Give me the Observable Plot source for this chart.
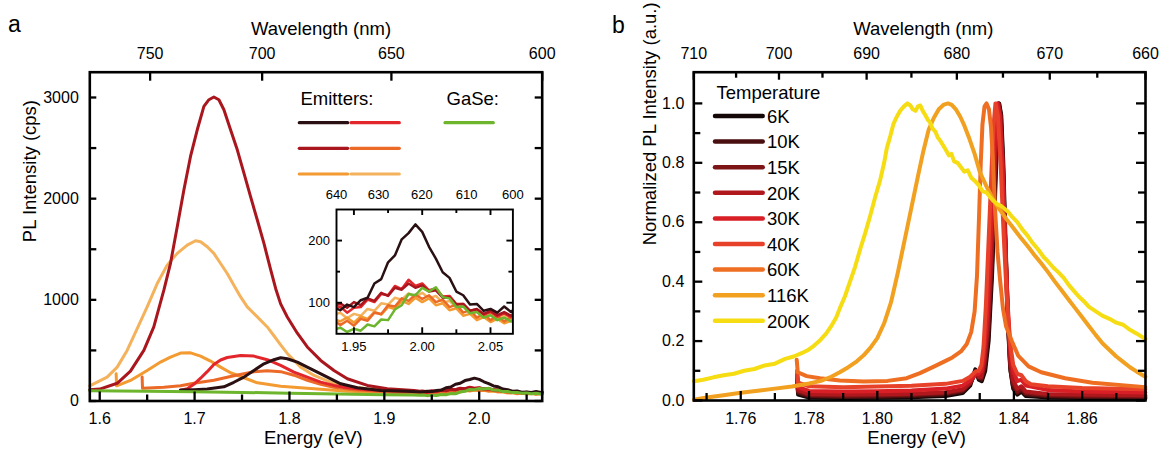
<!DOCTYPE html>
<html><head><meta charset="utf-8">
<script src="https://cdn.jsdelivr.net/npm/d3@7"></script>
<script src="https://cdn.jsdelivr.net/npm/@observablehq/plot@0.6"></script>
<style>
body{margin:0;background:#fff;}
#wrap{position:relative;width:1165px;height:457px;overflow:hidden;background:#fff;}
.pane{position:absolute;top:0;}
</style></head><body>
<div id="wrap">
  <div id="pa" class="pane" style="left:0;width:580px;height:457px"></div>
  <div id="pi" class="pane" style="left:0;width:580px;height:457px"></div>
  <div id="pb" class="pane" style="left:580px;width:585px;height:457px"></div>
</div>
<script>
const HC = 1239.84; // eV*nm
const FONT = "'Liberation Sans', Arial, Helvetica, sans-serif";

// ---------- Panel a : PL spectra [energy eV, intensity cps] ----------
const emBlack = [[1.685,108],[1.70,112],[1.7133,118],[1.7309,140],[1.7414,185],[1.752,236],[1.7625,302],[1.7731,368],[1.7836,408],[1.7907,428],[1.7977,418],[1.8083,385],[1.8188,335],[1.8294,286],[1.8399,236],[1.854,170],[1.8716,131],[1.8962,104],[1.9243,97]];
const emRed = [[1.685,105],[1.6922,122],[1.6992,165],[1.7063,225],[1.7133,290],[1.7203,360],[1.7274,405],[1.7344,430],[1.7485,450],[1.7625,444],[1.7766,408],[1.7907,352],[1.8047,286],[1.8188,236],[1.8329,187],[1.8469,154],[1.861,131],[1.8821,111],[1.9137,99],[1.928,94]];
const emDarkRed = [[1.5895,112],[1.60,118],[1.6184,175],[1.6324,295],[1.6465,500],[1.657,732],[1.6676,1095],[1.6746,1360],[1.6817,1723],[1.6887,2086],[1.6957,2417],[1.7028,2681],[1.7098,2912],[1.7151,2978],[1.7203,3005],[1.7256,2978],[1.7309,2879],[1.7379,2681],[1.745,2483],[1.752,2252],[1.759,2020],[1.7661,1789],[1.7731,1558],[1.7801,1300],[1.7855,1110],[1.7907,960],[1.7977,830],[1.8083,670],[1.8188,534],[1.8329,401],[1.8469,302],[1.861,220],[1.8821,154],[1.9032,121],[1.9313,104]];
const emDkOrange = [[1.6447,236],[1.6451,125],[1.6676,135],[1.6852,150],[1.6992,175],[1.7203,205],[1.7414,250],[1.7625,290],[1.7766,300],[1.7907,290],[1.8047,255],[1.8188,205],[1.8329,165],[1.8469,135],[1.8681,112],[1.8962,95],[1.92,80],[1.93,74]];
const emOrange = [[1.6173,270],[1.6178,150],[1.6324,203],[1.65,302],[1.6641,385],[1.6746,434],[1.6852,474],[1.6957,476],[1.7063,444],[1.7168,395],[1.7274,335],[1.7379,279],[1.752,230],[1.7661,180],[1.7907,145],[1.8259,121],[1.861,97],[1.8962,88],[1.925,78]];
const emLtOrange = [[1.5895,150],[1.6078,236],[1.6184,335],[1.6289,500],[1.6395,715],[1.65,930],[1.6606,1161],[1.6711,1343],[1.6817,1459],[1.6922,1541],[1.701,1584],[1.7063,1574],[1.7133,1525],[1.7203,1459],[1.7274,1359],[1.7344,1260],[1.7414,1145],[1.7485,1029],[1.7555,930],[1.7661,831],[1.7766,732],[1.7836,645],[1.7907,555],[1.7977,470],[1.8118,335],[1.8259,253],[1.8434,187],[1.861,144],[1.8821,121],[1.9137,104],[1.93,88]];
const gaSe = [[1.5895,102],[1.62,100],[1.65,97],[1.70,92],[1.75,85],[1.80,77],[1.85,70],[1.90,63],[1.93,59]];

// high-energy region (shown enlarged in the inset)
const insetE = [1.9375,1.940,1.945,1.950,1.955,1.960,1.965,1.970,1.975,1.980,1.985,1.990,1.995,2.000,2.005,2.010,2.015,2.020,2.025,2.030,2.035,2.040,2.045,2.050,2.055,2.060,2.065,2.0664];
const hiBlack    = [90,88,97,93,104,108,131,138,165,176,202,212,226,214,190,171,149,140,118,112,97,98,87,90,84,94,85,88];
const hiRed      = [92,94,84,92,93,105,101,114,112,127,122,137,127,131,120,123,110,111,98,98,87,89,81,85,78,83,77,79];
const hiDarkRed  = [96,99,92,101,96,107,103,116,111,124,121,131,124,128,118,120,108,109,97,98,87,90,82,87,80,85,79,82];
const hiDkOrange = [68,64,71,63,74,71,84,82,96,94,107,103,113,106,112,101,105,93,97,84,88,76,82,72,79,70,77,74];
const hiOrange   = [72,70,76,68,78,74,85,81,93,90,103,98,108,101,107,96,99,88,91,79,82,72,77,69,74,67,71,69];
const hiLtOrange = [82,84,75,82,79,90,87,99,97,108,105,115,109,116,107,111,100,103,92,94,83,86,77,82,74,80,73,76];
const hiGaSe     = [58,60,53,58,55,65,62,73,72,89,96,114,112,124,118,125,109,107,93,94,83,85,76,80,72,76,70,72];

const emitterColors = ["#2a1012","#e3262b","#a9161d","#ec6a28","#f39a30","#f5b25c"]; // legend order
const gaseColor = "#6cb52d";

// axes of panel a
const aWlRange = [780, 600];
const aYDomain = [0, 3250];
const aXMajor = [1.6,1.7,1.8,1.9,2.0];
const aXMinor = [1.65,1.75,1.85,1.95,2.05];
const aYMajor = [0,1000,2000,3000];
const aYMinor = [500,1500,2500];
const aWlTicks = [750,700,650,600];
// inset
const iWlRange = [640, 600];
const iYDomain = [50, 250];
const iXMajor = [1.95,2.00,2.05];
const iXMinor = [1.975,2.025];
const iYMajor = [100,200];
const iYMinor = [150];
const iWlTicks = [640,630,620,610,600];

// ---------- Panel b : normalized PL vs temperature ----------
const t6 = [[1.7765,0.07],[1.7768,0.02],[1.78,0.01],[1.79,0.008],[1.80,0.009],[1.81,0.011],[1.82,0.015],[1.825,0.025],[1.8272,0.05],[1.8287,0.105],[1.8297,0.07],[1.8306,0.065],[1.8316,0.1],[1.8326,0.2],[1.8336,0.42],[1.8344,0.66],[1.8351,0.88],[1.8357,1.0],[1.8363,0.96],[1.8369,0.8],[1.8376,0.52],[1.8383,0.26],[1.839,0.1],[1.8398,0.04],[1.841,0.02],[1.8422,0.03],[1.8435,0.015],[1.85,0.01],[1.86,0.008],[1.8785,0.007]];
const t10 = [[1.7765,0.075],[1.7768,0.025],[1.78,0.014],[1.79,0.012],[1.80,0.013],[1.81,0.015],[1.82,0.02],[1.825,0.03],[1.8272,0.055],[1.8288,0.1],[1.8297,0.075],[1.8305,0.07],[1.8315,0.11],[1.8325,0.21],[1.8335,0.43],[1.8343,0.67],[1.835,0.89],[1.8356,1.0],[1.8362,0.96],[1.8368,0.8],[1.8375,0.52],[1.8382,0.27],[1.8389,0.11],[1.8397,0.05],[1.841,0.025],[1.8422,0.035],[1.8435,0.02],[1.85,0.014],[1.86,0.012],[1.8785,0.01]];
const t15 = [[1.7765,0.08],[1.7768,0.03],[1.78,0.018],[1.79,0.016],[1.80,0.017],[1.81,0.019],[1.82,0.024],[1.825,0.034],[1.8272,0.058],[1.8288,0.095],[1.8297,0.078],[1.8305,0.075],[1.8314,0.12],[1.8324,0.23],[1.8334,0.45],[1.8342,0.69],[1.8349,0.9],[1.8355,1.0],[1.8361,0.96],[1.8368,0.79],[1.8375,0.52],[1.8382,0.28],[1.8389,0.12],[1.8397,0.06],[1.841,0.03],[1.8422,0.04],[1.8435,0.025],[1.85,0.018],[1.86,0.016],[1.8785,0.014]];
const t20 = [[1.7765,0.085],[1.7768,0.035],[1.78,0.022],[1.79,0.02],[1.80,0.021],[1.81,0.023],[1.82,0.028],[1.825,0.038],[1.8272,0.06],[1.8288,0.09],[1.8297,0.08],[1.8305,0.08],[1.8313,0.13],[1.8323,0.25],[1.8333,0.47],[1.8341,0.7],[1.8348,0.9],[1.8354,1.0],[1.836,0.96],[1.8367,0.8],[1.8375,0.53],[1.8382,0.3],[1.8389,0.14],[1.8397,0.07],[1.841,0.04],[1.8422,0.048],[1.8435,0.03],[1.85,0.022],[1.86,0.02],[1.8785,0.018]];
const t30 = [[1.7765,0.09],[1.7768,0.045],[1.78,0.032],[1.79,0.03],[1.80,0.031],[1.81,0.034],[1.82,0.04],[1.825,0.05],[1.8272,0.068],[1.8288,0.09],[1.8297,0.09],[1.8305,0.1],[1.8312,0.15],[1.8321,0.28],[1.833,0.5],[1.8338,0.72],[1.8345,0.9],[1.8351,1.0],[1.8358,0.96],[1.8366,0.8],[1.8374,0.55],[1.8382,0.32],[1.839,0.17],[1.8398,0.1],[1.841,0.065],[1.8422,0.07],[1.8435,0.05],[1.85,0.035],[1.86,0.03],[1.8785,0.027]];
const t40 = [[1.7765,0.1],[1.7768,0.06],[1.78,0.048],[1.79,0.045],[1.80,0.047],[1.81,0.05],[1.82,0.056],[1.825,0.066],[1.8272,0.08],[1.8288,0.098],[1.8297,0.1],[1.8305,0.12],[1.8311,0.18],[1.8318,0.32],[1.8326,0.54],[1.8334,0.76],[1.834,0.92],[1.8346,1.0],[1.8353,0.96],[1.8361,0.8],[1.837,0.56],[1.8379,0.35],[1.8388,0.2],[1.8398,0.12],[1.841,0.09],[1.8422,0.085],[1.8435,0.065],[1.845,0.055],[1.85,0.048],[1.86,0.042],[1.8785,0.038]];
const t60 = [[1.7764,0.137],[1.7767,0.095],[1.7793,0.082],[1.7832,0.075],[1.789,0.067],[1.796,0.064],[1.803,0.066],[1.8086,0.075],[1.8125,0.092],[1.8164,0.113],[1.8194,0.13],[1.822,0.145],[1.8245,0.165],[1.8262,0.19],[1.8275,0.23],[1.8285,0.3],[1.8292,0.42],[1.8298,0.62],[1.8303,0.8],[1.8308,0.93],[1.8314,0.99],[1.832,1.0],[1.8327,0.98],[1.8333,0.92],[1.8338,0.82],[1.8345,0.64],[1.8352,0.5],[1.836,0.4],[1.8368,0.31],[1.8377,0.25],[1.8394,0.2],[1.8413,0.15],[1.8443,0.115],[1.848,0.095],[1.855,0.075],[1.863,0.06],[1.8785,0.045]];
const t116 = [[1.7463,0.003],[1.750,0.01],[1.755,0.018],[1.760,0.026],[1.765,0.033],[1.770,0.04],[1.775,0.047],[1.780,0.057],[1.7835,0.066],[1.7865,0.08],[1.789,0.095],[1.7915,0.112],[1.794,0.132],[1.796,0.152],[1.798,0.178],[1.80,0.21],[1.802,0.26],[1.804,0.33],[1.806,0.43],[1.808,0.54],[1.81,0.65],[1.812,0.76],[1.8135,0.84],[1.815,0.91],[1.8165,0.95],[1.818,0.98],[1.8195,0.996],[1.8207,1.0],[1.8218,0.995],[1.823,0.98],[1.8243,0.955],[1.8255,0.925],[1.827,0.88],[1.8285,0.83],[1.830,0.77],[1.832,0.72],[1.834,0.675],[1.836,0.64],[1.838,0.608],[1.840,0.578],[1.842,0.548],[1.844,0.52],[1.846,0.49],[1.848,0.462],[1.850,0.432],[1.852,0.4],[1.854,0.37],[1.856,0.34],[1.858,0.31],[1.860,0.28],[1.862,0.25],[1.864,0.22],[1.866,0.192],[1.868,0.17],[1.870,0.148],[1.872,0.13],[1.874,0.112],[1.876,0.097],[1.8785,0.08]];
const t200 = [[1.7463,0.065],[1.749,0.07],[1.752,0.078],[1.755,0.085],[1.758,0.09],[1.761,0.1],[1.764,0.106],[1.767,0.118],[1.770,0.124],[1.773,0.14],[1.7755,0.148],[1.778,0.16],[1.780,0.172],[1.7815,0.185],[1.783,0.2],[1.785,0.225],[1.7865,0.25],[1.788,0.28],[1.789,0.31],[1.7905,0.35],[1.792,0.4],[1.7935,0.45],[1.795,0.51],[1.7965,0.565],[1.798,0.625],[1.7995,0.69],[1.8008,0.74],[1.802,0.8],[1.8028,0.85],[1.8038,0.89],[1.8047,0.93],[1.8057,0.955],[1.8067,0.975],[1.8078,0.99],[1.8088,1.0],[1.8097,0.993],[1.8104,0.98],[1.8112,0.975],[1.8119,0.99],[1.8126,0.993],[1.8133,0.975],[1.814,0.962],[1.8148,0.945],[1.8155,0.935],[1.8162,0.915],[1.817,0.905],[1.8177,0.885],[1.8184,0.875],[1.8192,0.86],[1.820,0.845],[1.821,0.825],[1.8217,0.83],[1.8225,0.805],[1.8235,0.8],[1.8245,0.785],[1.8255,0.77],[1.8265,0.775],[1.8275,0.75],[1.8285,0.74],[1.8297,0.725],[1.8308,0.705],[1.832,0.7],[1.833,0.685],[1.834,0.672],[1.8352,0.66],[1.8362,0.655],[1.837,0.648],[1.8383,0.635],[1.8395,0.618],[1.841,0.6],[1.8425,0.575],[1.844,0.555],[1.8455,0.53],[1.847,0.51],[1.8487,0.483],[1.850,0.468],[1.8516,0.447],[1.853,0.432],[1.8546,0.413],[1.856,0.39],[1.8575,0.37],[1.859,0.35],[1.8604,0.335],[1.862,0.315],[1.864,0.3],[1.866,0.285],[1.868,0.275],[1.870,0.262],[1.872,0.255],[1.874,0.238],[1.876,0.225],[1.8785,0.207]];
const tempLabels = ["6K","10K","15K","20K","30K","40K","60K","116K","200K"];
const tempColors = ["#140707","#4a0f10","#7d1517","#b0181d","#d91f26","#e8412a","#ee6e22","#f1a01f","#f6dc12"];
const tempData = [t6,t10,t15,t20,t30,t40,t60,t116,t200];

const bWlRange = [710, 660];
const bYDomain = [0, 1.105];
const bXMajor = [1.76,1.78,1.80,1.82,1.84,1.86];
const bXMinor = [1.75,1.77,1.79,1.81,1.83,1.85,1.87];
const bYMajor = [0,0.2,0.4,0.6,0.8,1.0];
const bYMinor = [0.1,0.3,0.5,0.7,0.9];
const bWlMajor = [710,700,690,680,670,660];
const bWlMinor = [705,695,685,675,665];

// ---------- helpers ----------
const withHi = (main, hi) => main.concat(insetE.map((e, i) => [e, hi[i]]));
const seriesA = [
  {c: emitterColors[5], d: withHi(emLtOrange, hiLtOrange)},
  {c: emitterColors[4], d: withHi(emOrange, hiOrange)},
  {c: emitterColors[3], d: withHi(emDkOrange, hiDkOrange)},
  {c: emitterColors[1], d: withHi(emRed, hiRed)},
  {c: emitterColors[2], d: withHi(emDarkRed, hiDarkRed)},
  {c: emitterColors[0], d: withHi(emBlack, hiBlack)},
  {c: gaseColor, d: withHi(gaSe, hiGaSe)}
];
const toE = w => HC / w;

function tx(values, len, side, FH, sw) {
  const o = {x: d => d, stroke: "black", strokeWidth: sw};
  if (side === "bottom") o.insetTop = FH - len; else o.insetBottom = FH - len;
  return Plot.tickX(values, o);
}
function ty(values, len, side, FW, sw) {
  const o = {y: d => d, stroke: "black", strokeWidth: sw};
  if (side === "left") o.insetRight = FW - len; else o.insetLeft = FW - len;
  return Plot.tickY(values, o);
}
const baseStyle = fs => ({fontFamily: FONT, fontSize: fs, background: "transparent", color: "black", maxWidth: "none", overflow: "visible"});

// ---------- Panel a ----------
const A = {w: 580, h: 457, l: 89.3, r: 38.3, t: 71.7, b: 56.5};
const AFW = A.w - A.l - A.r, AFH = A.h - A.t - A.b;
const plotA = Plot.plot({
  width: A.w, height: A.h, marginLeft: A.l, marginRight: A.r, marginTop: A.t, marginBottom: A.b,
  x: {domain: aWlRange.map(toE), axis: null},
  y: {domain: aYDomain, axis: null},
  style: baseStyle("16px"),
  marks: [
    ...seriesA.map(s => Plot.line(s.d, {x: d => d[0], y: d => d[1], stroke: s.c, strokeWidth: 3, strokeLinejoin: "round"})),
    Plot.frame({stroke: "black", strokeWidth: 2.6}),
    tx(aXMajor, 9, "bottom", AFH, 2.3), tx(aXMinor, 6, "bottom", AFH, 2.3),
    tx(aWlTicks.map(toE), 9, "top", AFH, 2.3),
    ty(aYMajor.concat(aYMinor), 7, "left", AFW, 2.3), ty(aYMajor.concat(aYMinor), 7, "right", AFW, 2.3),
    Plot.axisX({anchor: "bottom", ticks: aXMajor, tickSize: 0, tickPadding: 12, tickFormat: d => d.toFixed(1), label: null}),
    Plot.axisX({anchor: "top", ticks: aWlTicks.map(toE), tickSize: 0, tickPadding: 13, tickFormat: d => String(Math.round(HC / d)), label: null}),
    Plot.axisY({anchor: "left", ticks: aYMajor, tickSize: 0, tickPadding: 11, tickFormat: d => String(d), label: null}),
    Plot.text(["Energy (eV)"], {text: d => d, frameAnchor: "bottom", dx: -2.7, dy: 42.5, fontSize: 18.5}),
    Plot.text(["Wavelength (nm)"], {text: d => d, frameAnchor: "top", dx: 5, dy: -50, fontSize: 18.5}),
    Plot.text(["PL Intensity (cps)"], {text: d => d, frameAnchor: "left", dx: -59.6, dy: 5.6, rotate: -90, fontSize: 18.5})
  ]
});
document.getElementById("pa").appendChild(plotA);

// ---------- Inset ----------
const I = {w: 580, h: 457, l: 336, r: 67.6, t: 209, b: 123.7};
const IFW = I.w - I.l - I.r, IFH = I.h - I.t - I.b;
const iMin = toE(iWlRange[0]) - 1e-6;
const plotI = Plot.plot({
  width: I.w, height: I.h, marginLeft: I.l, marginRight: I.r, marginTop: I.t, marginBottom: I.b,
  x: {domain: iWlRange.map(toE), axis: null},
  y: {domain: iYDomain, axis: null},
  style: baseStyle("13px"),
  marks: [
    Plot.frame({fill: "white", stroke: "none"}),
    ...seriesA.map(s => Plot.line(s.d.filter(d => d[0] >= iMin), {x: d => d[0], y: d => d[1], stroke: s.c, strokeWidth: 2.5, strokeLinejoin: "round", clip: true})),
    Plot.frame({stroke: "black", strokeWidth: 1.9}),
    tx(iXMajor, 6, "bottom", IFH, 1.9), tx(iXMinor, 4, "bottom", IFH, 1.9),
    tx(iXMajor, 6, "top", IFH, 1.9), tx(iXMinor, 4, "top", IFH, 1.9),
    ty(iYMajor, 6, "left", IFW, 1.9), ty(iYMinor, 4, "left", IFW, 1.9),
    ty(iYMajor, 6, "right", IFW, 1.9), ty(iYMinor, 4, "right", IFW, 1.9),
    Plot.axisX({anchor: "bottom", ticks: iXMajor, tickSize: 0, tickPadding: 8, tickFormat: d => d.toFixed(2), label: null}),
    Plot.axisX({anchor: "top", ticks: iWlTicks.map(toE), tickSize: 0, tickPadding: 11, tickFormat: d => String(Math.round(HC / d)), label: null}),
    Plot.axisY({anchor: "left", ticks: iYMajor, tickSize: 0, tickPadding: 6.5, tickFormat: d => String(d), label: null})
  ]
});
document.getElementById("pi").appendChild(plotI);

// ---------- Panel b ----------
const B = {w: 585, h: 457, l: 113.3, r: 20, t: 71.7, b: 57};
const BFW = B.w - B.l - B.r, BFH = B.h - B.t - B.b;
const drawOrder = [0,1,2,3,4,5,6,7,8];
const plotB = Plot.plot({
  width: B.w, height: B.h, marginLeft: B.l, marginRight: B.r, marginTop: B.t, marginBottom: B.b,
  x: {domain: bWlRange.map(toE), axis: null},
  y: {domain: bYDomain, axis: null},
  style: baseStyle("16px"),
  marks: [
    ...drawOrder.map(i => Plot.line(tempData[i], {x: d => d[0], y: d => d[1], stroke: tempColors[i], strokeWidth: 4, strokeLinejoin: "round"})),
    Plot.frame({stroke: "black", strokeWidth: 2.6}),
    tx(bXMajor, 9, "bottom", BFH, 2.3), tx(bXMinor, 7, "bottom", BFH, 2.3),
    tx(bWlMajor.map(toE), 8, "top", BFH, 2.3), tx(bWlMinor.map(toE), 6, "top", BFH, 2.3),
    ty(bYMajor, 9, "left", BFW, 2.3), ty(bYMinor, 7, "left", BFW, 2.3),
    ty(bYMajor, 9, "right", BFW, 2.3), ty(bYMinor, 7, "right", BFW, 2.3),
    Plot.axisX({anchor: "bottom", ticks: bXMajor, tickSize: 0, tickPadding: 12, tickFormat: d => d.toFixed(2), label: null}),
    Plot.axisX({anchor: "top", ticks: bWlMajor.map(toE), tickSize: 0, tickPadding: 13, tickFormat: d => String(Math.round(HC / d)), label: null}),
    Plot.axisY({anchor: "left", ticks: bYMajor, tickSize: 0, tickPadding: 9.5, tickFormat: d => d.toFixed(1), label: null}),
    Plot.text(["Energy (eV)"], {text: d => d, frameAnchor: "bottom", dx: -3, dy: 43, fontSize: 18.5}),
    Plot.text(["Wavelength (nm)"], {text: d => d, frameAnchor: "top", dx: 3.6, dy: -50, fontSize: 18.5}),
    Plot.text(["Normalized PL Intensity (a.u.)"], {text: d => d, frameAnchor: "left", dx: -43.3, dy: 9, rotate: -90, fontSize: 18.5})
  ]
});
document.getElementById("pb").appendChild(plotB);

// ---------- overlay: panel letters and legends ----------
const ov = d3.select("#wrap").append("svg")
  .attr("width", 1165).attr("height", 457)
  .style("position", "absolute").style("left", 0).style("top", 0)
  .style("font-family", FONT);
ov.append("text").attr("x", 8).attr("y", 32).attr("font-size", 23).text("a");
ov.append("text").attr("x", 612).attr("y", 33).attr("font-size", 23).text("b");

// panel a legend
ov.append("text").attr("x", 300.5).attr("y", 105).attr("font-size", 18.5).text("Emitters:");
ov.append("text").attr("x", 446.5).attr("y", 105).attr("font-size", 18.5).text("GaSe:");
const legRows = [122.7, 148.3, 174];
const legCols = [[299.3, 347.7], [351, 399.3]];
emitterColors.forEach((c, i) => {
  const r = Math.floor(i / 2), k = i % 2;
  ov.append("line").attr("x1", legCols[k][0]).attr("x2", legCols[k][1])
    .attr("y1", legRows[r]).attr("y2", legRows[r])
    .attr("stroke", c).attr("stroke-width", 3.2).attr("stroke-linecap", "round");
});
ov.append("line").attr("x1", 445).attr("x2", 493.3).attr("y1", legRows[0]).attr("y2", legRows[0])
  .attr("stroke", gaseColor).attr("stroke-width", 3.2).attr("stroke-linecap", "round");

// panel b legend
ov.append("text").attr("x", 716.5).attr("y", 98.5).attr("font-size", 18.5).text("Temperature");
tempLabels.forEach((t, i) => {
  const y = 116 + i * 25.6;
  ov.append("line").attr("x1", 715).attr("x2", 762.7).attr("y1", y).attr("y2", y)
    .attr("stroke", tempColors[i]).attr("stroke-width", 4.5).attr("stroke-linecap", "round");
  ov.append("text").attr("x", 767).attr("y", y + 6.7).attr("font-size", 18.5).text(t);
});
</script>
</body></html>
